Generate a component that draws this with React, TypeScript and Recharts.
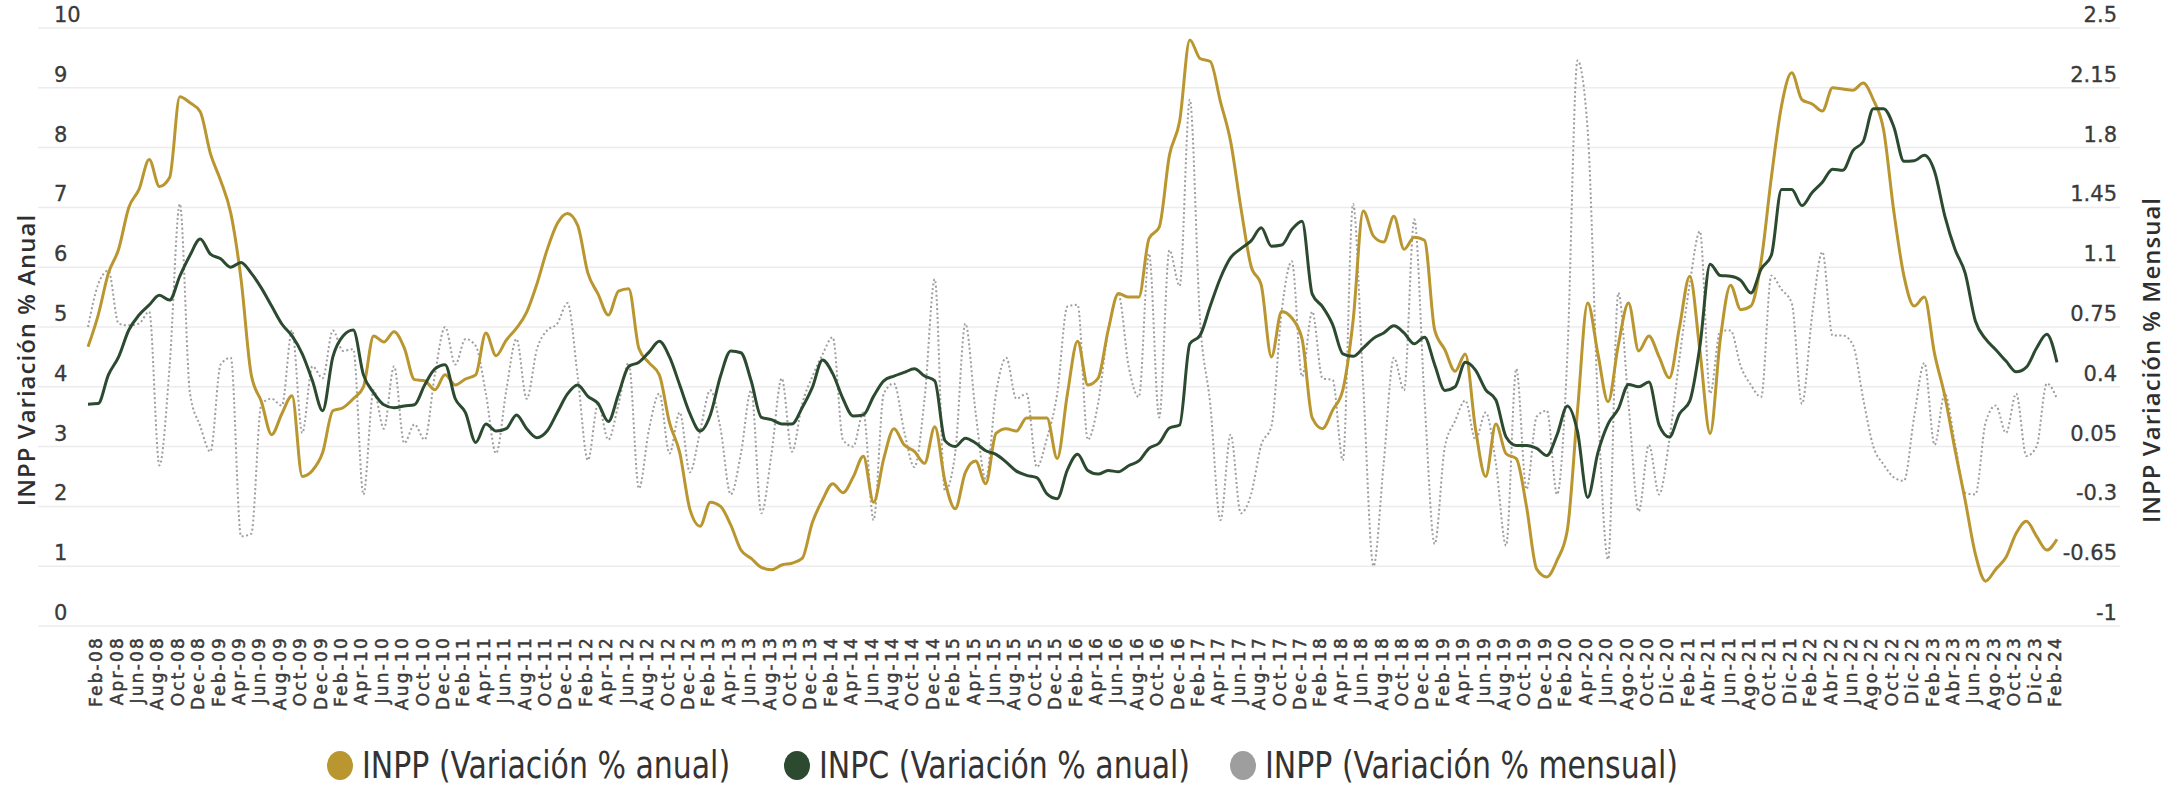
import { CartesianGrid, Legend, Line, LineChart, XAxis, YAxis } from "recharts";

// monthly, Jan-08 .. Feb-24 (labels shown every second month)
const MONTHS = [
  "Jan-08","Feb-08","Mar-08","Apr-08","May-08","Jun-08","Jul-08","Aug-08","Sep-08","Oct-08","Nov-08","Dec-08",
  "Jan-09","Feb-09","Mar-09","Apr-09","May-09","Jun-09","Jul-09","Aug-09","Sep-09","Oct-09","Nov-09","Dec-09",
  "Jan-10","Feb-10","Mar-10","Apr-10","May-10","Jun-10","Jul-10","Aug-10","Sep-10","Oct-10","Nov-10","Dec-10",
  "Jan-11","Feb-11","Mar-11","Apr-11","May-11","Jun-11","Jul-11","Aug-11","Sep-11","Oct-11","Nov-11","Dec-11",
  "Jan-12","Feb-12","Mar-12","Apr-12","May-12","Jun-12","Jul-12","Aug-12","Sep-12","Oct-12","Nov-12","Dec-12",
  "Jan-13","Feb-13","Mar-13","Apr-13","May-13","Jun-13","Jul-13","Aug-13","Sep-13","Oct-13","Nov-13","Dec-13",
  "Jan-14","Feb-14","Mar-14","Apr-14","May-14","Jun-14","Jul-14","Aug-14","Sep-14","Oct-14","Nov-14","Dec-14",
  "Jan-15","Feb-15","Mar-15","Apr-15","May-15","Jun-15","Jul-15","Aug-15","Sep-15","Oct-15","Nov-15","Dec-15",
  "Jan-16","Feb-16","Mar-16","Apr-16","May-16","Jun-16","Jul-16","Aug-16","Sep-16","Oct-16","Nov-16","Dec-16",
  "Jan-17","Feb-17","Mar-17","Apr-17","May-17","Jun-17","Jul-17","Aug-17","Sep-17","Oct-17","Nov-17","Dec-17",
  "Jan-18","Feb-18","Mar-18","Apr-18","May-18","Jun-18","Jul-18","Aug-18","Sep-18","Oct-18","Nov-18","Dec-18",
  "Jan-19","Feb-19","Mar-19","Apr-19","May-19","Jun-19","Jul-19","Aug-19","Sep-19","Oct-19","Nov-19","Dec-19",
  "Jan-20","Feb-20","Mar-20","Apr-20","May-20","Jun-20","Jul-20","Ago-20","Sep-20","Oct-20","Nov-20","Dic-20",
  "Ene-21","Feb-21","Mar-21","Abr-21","May-21","Jun-21","Jul-21","Ago-21","Sep-21","Oct-21","Nov-21","Dic-21",
  "Ene-22","Feb-22","Mar-22","Abr-22","May-22","Jun-22","Jul-22","Ago-22","Sep-22","Oct-22","Nov-22","Dic-22",
  "Ene-23","Feb-23","Mar-23","Abr-23","May-23","Jun-23","Jul-23","Ago-23","Sep-23","Oct-23","Nov-23","Dic-23",
  "Ene-24","Feb-24",
];

const INPP_ANUAL = [
  4.67, 5.2, 5.9, 6.3, 7.0, 7.3, 7.8, 7.35, 7.5, 8.85, 8.75, 8.6,
  7.9, 7.45, 6.9, 5.8, 4.2, 3.75, 3.2, 3.55, 3.85, 2.5, 2.6, 2.9,
  3.6, 3.65, 3.8, 4.0, 4.85, 4.75, 4.92, 4.65, 4.12, 4.1, 3.95, 4.2,
  4.03, 4.13, 4.2, 4.9, 4.52, 4.78, 4.98, 5.25, 5.72, 6.29, 6.73, 6.9,
  6.7, 5.9, 5.55, 5.2, 5.6, 5.64, 4.64, 4.4, 4.2, 3.4, 2.9, 1.95,
  1.67, 2.07, 2.0, 1.69, 1.27, 1.13, 0.98, 0.94, 1.02, 1.05, 1.13, 1.73,
  2.11, 2.38, 2.23, 2.49, 2.84, 2.07, 2.8, 3.3, 3.03, 2.92, 2.72, 3.33,
  2.42, 1.96, 2.57, 2.76, 2.38, 3.22, 3.3, 3.26, 3.48, 3.48, 3.48, 2.8,
  3.88, 4.76, 4.03, 4.14, 4.95, 5.56, 5.5, 5.5, 6.48, 6.67, 7.87, 8.44,
  9.8, 9.49, 9.44, 8.77, 8.1, 7.0, 6.02, 5.7, 4.5, 5.26, 5.15, 4.8,
  3.48, 3.3, 3.61, 3.95, 5.1, 6.94, 6.52, 6.42, 6.85, 6.3, 6.5, 6.45,
  4.95, 4.62, 4.26, 4.55, 3.3, 2.5, 3.38, 2.88, 2.8, 2.0, 0.95, 0.82,
  1.1, 1.6, 3.6, 5.4, 4.55, 3.75, 4.7, 5.4, 4.6, 4.85, 4.5, 4.15,
  5.0, 5.85, 4.6, 3.22, 4.8, 5.7, 5.29, 5.35, 6.1, 7.5, 8.7, 9.25,
  8.8, 8.73, 8.61, 9.0, 8.98, 8.96, 9.08, 8.8, 8.3, 6.94, 5.85, 5.35,
  5.5, 4.55, 3.85, 2.95, 2.1, 1.2, 0.75, 0.95, 1.15, 1.55, 1.75, 1.5,
  1.27, 1.45,
];

const INPC_ANUAL = [
  3.71, 3.72, 4.2, 4.5, 4.95, 5.2, 5.37, 5.53, 5.45, 5.85, 6.2, 6.47,
  6.22, 6.14, 6.0, 6.08, 5.9, 5.65, 5.35, 5.05, 4.85, 4.55, 4.1, 3.6,
  4.5, 4.85, 4.95, 4.2, 3.9, 3.7, 3.65, 3.68, 3.7, 4.03, 4.3, 4.37,
  3.8, 3.57, 3.07, 3.38, 3.26, 3.3, 3.53, 3.3, 3.15, 3.26, 3.57, 3.88,
  4.03, 3.84, 3.72, 3.42, 3.88, 4.34, 4.41, 4.58, 4.76, 4.5, 4.03, 3.55,
  3.26, 3.53, 4.18, 4.6, 4.57, 4.1, 3.49, 3.45, 3.38, 3.38, 3.65, 3.99,
  4.45, 4.22, 3.8, 3.51, 3.53, 3.84, 4.1, 4.18, 4.24, 4.3, 4.18, 4.1,
  3.1, 3.0, 3.14, 3.06, 2.93, 2.87, 2.74, 2.59, 2.52, 2.48, 2.21, 2.13,
  2.61, 2.87, 2.6, 2.54, 2.6, 2.58, 2.68, 2.76, 2.97, 3.06, 3.31, 3.36,
  4.72, 4.86, 5.35, 5.82, 6.16, 6.31, 6.44, 6.66, 6.35, 6.37, 6.63, 6.77,
  5.55, 5.34, 5.04, 4.55, 4.51, 4.65, 4.81, 4.9, 5.02, 4.9, 4.72, 4.83,
  4.37, 3.94, 4.0, 4.41, 4.28, 3.95, 3.78, 3.16, 3.02, 3.02, 2.97, 2.85,
  3.2, 3.68, 3.25, 2.15, 2.9, 3.38, 3.63, 4.04, 4.0, 4.08, 3.36, 3.16,
  3.55, 3.76, 4.68, 6.05, 5.86, 5.85, 5.78, 5.57, 5.97, 6.2, 7.3, 7.3,
  7.03, 7.25, 7.42, 7.64, 7.62, 7.95, 8.1, 8.65, 8.65, 8.35, 7.77, 7.78,
  7.87, 7.6, 6.86, 6.3, 5.9, 5.1, 4.8, 4.62, 4.43, 4.25, 4.33, 4.65,
  4.88, 4.41,
];

const INPP_MENSUAL = [
  0.75, 1.0, 1.08, 0.77, 0.76, 0.77, 0.84, -0.06, 0.52, 1.47, 0.36, 0.17,
  0.02, 0.53, 0.57, -0.475, -0.46, 0.3, 0.33, 0.29, 0.73, 0.13, 0.52, 0.45,
  0.73, 0.61, 0.62, -0.23, 0.38, 0.155, 0.52, 0.07, 0.18, 0.09, 0.47, 0.75,
  0.53, 0.68, 0.64, 0.36, 0.01, 0.38, 0.68, 0.33, 0.62, 0.73, 0.77, 0.89,
  0.46, -0.03, 0.3, 0.09, 0.3, 0.54, -0.195, 0.155, 0.36, 0.01, 0.25, -0.1,
  0.14, 0.38, 0.155, -0.23, 0.01, 0.38, -0.34, 0.01, 0.45, 0.02, 0.3, 0.46,
  0.59, 0.69, 0.09, 0.05, 0.25, -0.38, 0.36, 0.42, 0.14, -0.07, 0.33, 1.03,
  -0.21, 0.01, 0.77, 0.25, -0.14, 0.36, 0.57, 0.33, 0.36, -0.07, 0.1, 0.36,
  0.87, 0.88, 0.09, 0.3, 0.73, 0.94, 0.52, 0.34, 1.18, 0.22, 1.2, 0.99,
  2.08, 0.79, 0.3, -0.38, 0.12, -0.34, -0.23, 0.06, 0.17, 0.84, 1.135, 0.46,
  0.84, 0.45, 0.44, -0.03, 1.47, 0.4, -0.65, -0.05, 0.57, 0.38, 1.38, 0.33,
  -0.52, 0.05, 0.2, 0.32, 0.09, 0.25, -0.05, -0.53, 0.505, -0.2, 0.225, 0.26,
  -0.23, 0.575, 2.31, 1.9, 0.3, -0.61, 0.95, 0.3, -0.33, 0.06, -0.23, 0.09,
  0.57, 1.0, 1.31, 0.36, 0.73, 0.73, 0.52, 0.41, 0.34, 1.05, 0.97, 0.89,
  0.3, 0.82, 1.19, 0.7, 0.7, 0.645, 0.33, 0.05, -0.055, -0.13, -0.15, 0.225,
  0.54, 0.06, 0.36, 0.07, -0.22, -0.23, 0.19, 0.29, 0.13, 0.36, -0.005, 0.05,
  0.42, 0.33,
];

const LEFT_TICKS = [0, 1, 2, 3, 4, 5, 6, 7, 8, 9, 10];
const RIGHT_TICKS = [-1, -0.65, -0.3, 0.05, 0.4, 0.75, 1.1, 1.45, 1.8, 2.15, 2.5];

const SERIES = [
  { key: "inppAnual", name: "INPP (Variación % anual)", color: "#B9962F" },
  { key: "inpcAnual", name: "INPC (Variación % anual)", color: "#2B4A2F" },
  { key: "inppMensual", name: "INPP (Variación % mensual)", color: "#9E9E9E" },
];

const data = MONTHS.map((month, i) => ({
  month,
  inppAnual: INPP_ANUAL[i],
  inpcAnual: INPC_ANUAL[i],
  inppMensual: INPP_MENSUAL[i],
}));

const W = 2177;
const H = 786;
const MARGIN = { top: 28, right: 57, bottom: 60, left: 38 };
const PLOT_H = 598;
const FONT = "'DejaVu Sans', sans-serif";
const TEXT = "#3a3a3a";
// left edge of each legend item (circle), page px
const LEGEND_LEFT = [327, 784, 1230];

function XTick(props: any) {
  const { x, y, payload, index } = props;
  if (index % 2 === 0) return null;
  return (
    <g transform={`translate(${x},${y})`}>
      <text transform="rotate(-90)" textAnchor="end" dy={4} fontSize={17} letterSpacing={2.2}
        fill={TEXT} stroke={TEXT} strokeWidth={0.5} fontFamily={FONT}>
        {payload.value}
      </text>
    </g>
  );
}

function LeftTick(props: any) {
  const { x, y, payload } = props;
  return (
    <text x={x + 16} y={y - 6} textAnchor="start" fontSize={21} fill={TEXT} stroke={TEXT} strokeWidth={0.3}
      fontFamily={FONT}>
      {payload.value}
    </text>
  );
}

function RightTick(props: any) {
  const { x, y, payload } = props;
  return (
    <text x={x - 3} y={y - 6} textAnchor="end" fontSize={21} fill={TEXT} stroke={TEXT} strokeWidth={0.3}
      fontFamily={FONT}>
      {payload.value}
    </text>
  );
}

function AxisTitle({ x, text }: { x: number; text: string }) {
  const y = MARGIN.top + PLOT_H / 2 + 33;
  return (
    <text x={x} y={y} transform={`rotate(-90, ${x}, ${y})`} textAnchor="middle" dominantBaseline="central"
      fontSize={24} letterSpacing={1} fontWeight={600} fill="#2f2f2f"
      fontFamily="'Open Sans', 'DejaVu Sans', sans-serif">
      {text}
    </text>
  );
}

function LegendContent() {
  return (
    <div style={{ position: "relative", width: W, height: 42 }}>
      {SERIES.map((s, i) => (
        <div key={s.key} style={{ position: "absolute", left: LEGEND_LEFT[i], top: 0, height: 42,
          display: "flex", alignItems: "center" }}>
          <span style={{ display: "inline-block", width: 26, height: 29, borderRadius: "50%", background: s.color }} />
          <span style={{
            marginLeft: 9, fontSize: 37, color: "#333", whiteSpace: "nowrap",
            display: "inline-block", transform: "scaleX(0.9)", transformOrigin: "left center",
            fontFamily: "'Liberation Sans Narrow', 'DejaVu Sans Condensed', sans-serif",
          }}>
            {s.name}
          </span>
        </div>
      ))}
    </div>
  );
}

export default function App() {
  return (
    <div style={{ position: "absolute", left: 0, top: 0, width: W, height: H, background: "#fff" }}>
      <LineChart width={W} height={H} data={data} margin={MARGIN}>
        <CartesianGrid yAxisId="left" vertical={false} stroke="#ECECEC" strokeWidth={1.5} />
        <XAxis dataKey="month" interval={0} tick={<XTick />} tickLine={false} axisLine={false}
          tickSize={0} tickMargin={10} height={100} padding={{ left: 50, right: 63 }} />
        <YAxis yAxisId="left" domain={[0, 10]} ticks={LEFT_TICKS} interval={0} mirror width={60}
          tick={<LeftTick />} tickLine={false} axisLine={false} tickSize={0} tickMargin={0}
          label={() => <AxisTitle x={MARGIN.left - 13} text="INPP Variación % Anual" />} />
        <YAxis yAxisId="right" orientation="right" domain={[-1, 2.5]} ticks={RIGHT_TICKS} interval={0}
          mirror width={60} tick={<RightTick />} tickLine={false} axisLine={false} tickSize={0} tickMargin={0}
          label={() => <AxisTitle x={W - MARGIN.right + 30} text="INPP Variación % Mensual" />} />
        <Line yAxisId="right" type="monotone" dataKey="inppMensual" name={SERIES[2].name} stroke={SERIES[2].color}
          strokeWidth={2} strokeDasharray="2 2.5" dot={false} isAnimationActive={false} />
        <Line yAxisId="left" type="monotone" dataKey="inppAnual" name={SERIES[0].name} stroke={SERIES[0].color}
          strokeWidth={3} dot={false} isAnimationActive={false} />
        <Line yAxisId="left" type="monotone" dataKey="inpcAnual" name={SERIES[1].name} stroke={SERIES[1].color}
          strokeWidth={3} dot={false} isAnimationActive={false} />
        <Legend layout="horizontal" verticalAlign="middle" align="center" content={<LegendContent />}
          wrapperStyle={{ top: 744, left: 0, width: W, height: 42 }} />
      </LineChart>
    </div>
  );
}
